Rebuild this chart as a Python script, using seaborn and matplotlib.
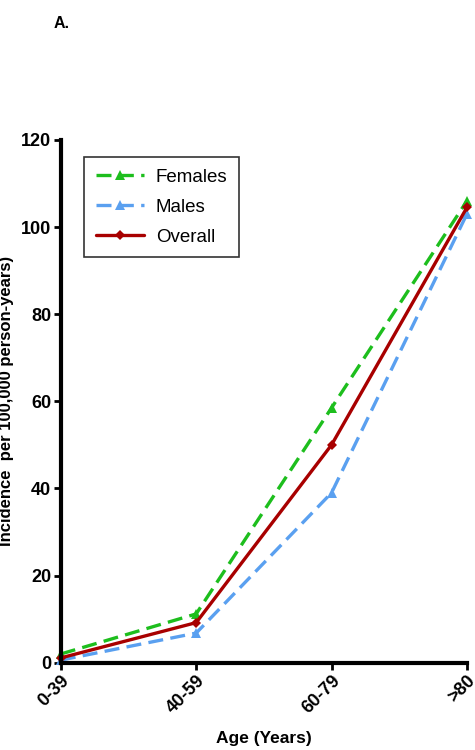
import numpy as np
import pandas as pd
import seaborn as sns
import matplotlib
matplotlib.use("Agg")
import matplotlib.pyplot as plt

# data
ages = ["0-39", "40-59", "60-79", ">80"]
females = [2.0, 11.2, 58.5, 106.0]
males = [0.6, 6.8, 39.0, 103.0]
overall = [1.1, 9.2, 50.0, 104.5]

sns.set_style("ticks")
plt.rcParams["font.family"] = ["Liberation Sans", "DejaVu Sans"]
plt.rcParams["text.color"] = "black"
plt.rcParams["axes.labelcolor"] = "black"
plt.rcParams["xtick.color"] = "black"
plt.rcParams["ytick.color"] = "black"

pos = np.arange(len(ages))
df = pd.DataFrame({"pos": pos, "Females": females, "Males": males, "Overall": overall})

fig = plt.figure(figsize=(4.75, 7.5), dpi=100)
ax = fig.add_axes([0.128, 0.1164, 0.855, 0.697])

sns.lineplot(data=df, x="pos", y="Females", ax=ax, color="#1DBE1D", lw=2.4,
             marker="^", markersize=6.5, markeredgewidth=0, label="Females", clip_on=False)
sns.lineplot(data=df, x="pos", y="Males", ax=ax, color="#5AA0F0", lw=2.4,
             marker="^", markersize=6.5, markeredgewidth=0, label="Males", clip_on=False)
sns.lineplot(data=df, x="pos", y="Overall", ax=ax, color="#A80000", lw=2.4,
             marker="D", markersize=5, markeredgewidth=0, label="Overall", clip_on=False)
ax.lines[0].set_dashes([4.5, 2.2])
ax.lines[1].set_dashes([4.5, 2.2])

ax.set_xlim(0, 3)
ax.set_ylim(0, 120)
ax.set_xticks(pos)
ax.set_xticklabels(ages, rotation=45, ha="right", rotation_mode="anchor",
                   fontsize=13, fontweight="bold")
ax.set_yticks(np.arange(0, 121, 20))
ax.set_yticklabels([str(v) for v in range(0, 121, 20)], fontsize=13, fontweight="bold")
ax.tick_params(axis="both", width=2, length=5, color="black", labelcolor="black", pad=2)
ax.set_xlabel("Age (Years)", fontsize=12.5, fontweight="bold", labelpad=10)
ax.set_ylabel("Incidence  per 100,000 person-years)", fontsize=12, fontweight="bold",
              labelpad=5)

sns.despine(ax=ax)
for s in ["left", "bottom"]:
    ax.spines[s].set_linewidth(3)
    ax.spines[s].set_color("black")

leg = ax.legend(loc="upper left", bbox_to_anchor=(0.035, 0.985), fontsize=13.5,
                frameon=True, fancybox=False, edgecolor="black", handlelength=2.6,
                labelspacing=0.7, borderpad=0.6, handletextpad=0.6)
leg.get_frame().set_linewidth(1.2)

fig.text(0.113, 0.962, "A.", fontsize=11.5, fontweight="bold")

fig.savefig("out.png", dpi=100)
